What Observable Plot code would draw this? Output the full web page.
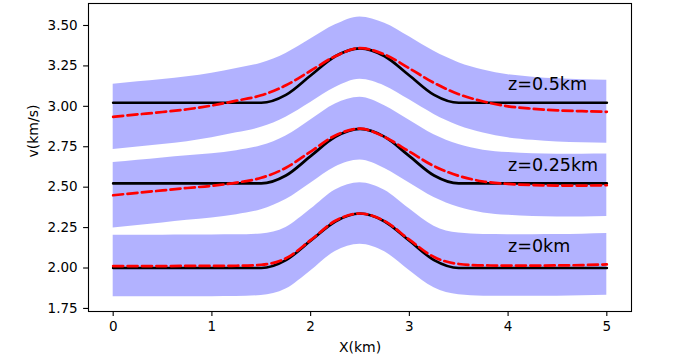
<!DOCTYPE html>
<html>
<head>
<meta charset="utf-8">
<script src="https://cdn.jsdelivr.net/npm/d3@7"></script>
<script src="https://cdn.jsdelivr.net/npm/@observablehq/plot@0.6"></script>
<style>
  html, body { margin: 0; padding: 0; background: #fff; }
  #chart svg { display: block; }
</style>
</head>
<body>
<div id="chart"></div>
<script>
// ---- data ----
const xs = [0, 0.25, 0.5, 0.75, 1, 1.25, 1.5, 1.75, 2, 2.25, 2.5, 2.75, 3, 3.25, 3.5, 3.75, 4, 4.25, 4.5, 4.75, 5];

const xTicks = [0, 1, 2, 3, 4, 5];
const yTicks = [1.75, 2.0, 2.25, 2.5, 2.75, 3.0, 3.25, 3.5];

const depthLabels = ["z=0km", "z=0.25km", "z=0.5km"];
const labelX = [4, 4, 4];
const labelY = [2.1, 2.6, 3.1];

// true model (black)
const true0   = [2.0, 2.0, 2.0, 2.0, 2.0, 2.0, 2.0, 2.049, 2.169, 2.288, 2.337, 2.288, 2.169, 2.049, 2.0, 2.0, 2.0, 2.0, 2.0, 2.0, 2.0];
const true025 = [2.523, 2.523, 2.523, 2.523, 2.523, 2.523, 2.523, 2.572, 2.692, 2.811, 2.86, 2.811, 2.692, 2.572, 2.523, 2.523, 2.523, 2.523, 2.523, 2.523, 2.523];
const true05  = [3.022, 3.022, 3.022, 3.022, 3.022, 3.022, 3.022, 3.071, 3.191, 3.31, 3.359, 3.31, 3.191, 3.071, 3.022, 3.022, 3.022, 3.022, 3.022, 3.022, 3.022];

// estimated model (red dashed)
const est0   = [2.012, 2.012, 2.012, 2.013, 2.013, 2.014, 2.02, 2.06, 2.172, 2.292, 2.337, 2.29, 2.175, 2.068, 2.025, 2.016, 2.015, 2.015, 2.016, 2.018, 2.022];
const est025 = [2.45, 2.465, 2.48, 2.495, 2.508, 2.528, 2.558, 2.62, 2.72, 2.82, 2.862, 2.81, 2.72, 2.63, 2.57, 2.535, 2.52, 2.513, 2.51, 2.51, 2.512];
const est05  = [2.935, 2.95, 2.965, 2.982, 3.005, 3.035, 3.068, 3.13, 3.22, 3.31, 3.36, 3.32, 3.235, 3.145, 3.075, 3.03, 3.0, 2.985, 2.975, 2.97, 2.966];

// uncertainty bands (blue)
const hi0   = [2.203, 2.203, 2.203, 2.204, 2.204, 2.205, 2.211, 2.251, 2.363, 2.483, 2.528, 2.481, 2.366, 2.259, 2.216, 2.207, 2.206, 2.206, 2.207, 2.209, 2.213];
const lo0   = [1.822, 1.822, 1.822, 1.823, 1.823, 1.824, 1.83, 1.87, 1.982, 2.102, 2.147, 2.1, 1.985, 1.878, 1.835, 1.826, 1.825, 1.825, 1.826, 1.828, 1.832];
const hi025 = [2.653, 2.667, 2.681, 2.695, 2.707, 2.726, 2.756, 2.817, 2.916, 3.015, 3.056, 3.004, 2.914, 2.824, 2.764, 2.729, 2.714, 2.707, 2.704, 2.704, 2.705];
const lo025 = [2.247, 2.263, 2.279, 2.295, 2.309, 2.33, 2.36, 2.423, 2.524, 2.625, 2.668, 2.616, 2.526, 2.436, 2.376, 2.341, 2.326, 2.319, 2.316, 2.316, 2.319];
const hi05  = [3.137, 3.152, 3.166, 3.183, 3.205, 3.234, 3.266, 3.327, 3.416, 3.504, 3.553, 3.514, 3.43, 3.34, 3.27, 3.225, 3.195, 3.18, 3.17, 3.165, 3.161];
const lo05  = [2.733, 2.748, 2.764, 2.781, 2.805, 2.836, 2.87, 2.933, 3.024, 3.116, 3.167, 3.126, 3.04, 2.95, 2.88, 2.835, 2.805, 2.79, 2.78, 2.775, 2.771];

// ---- build tables ----
const groups = [
  {z: depthLabels[0], t: true0,   e: est0,   hi: hi0,   lo: lo0},
  {z: depthLabels[1], t: true025, e: est025, hi: hi025, lo: lo025},
  {z: depthLabels[2], t: true05,  e: est05,  hi: hi05,  lo: lo05}
];
const rows = groups.flatMap(g => xs.map((x, i) => ({x, z: g.z, t: g.t[i], e: g.e[i], hi: g.hi[i], lo: g.lo[i]})));
const labels = depthLabels.map((t, i) => ({t, x: labelX[i], y: labelY[i]}));

const font = "'DejaVu Sans', sans-serif";

const chart = Plot.plot({
  width: 700,
  height: 354,
  marginLeft: 88,
  marginRight: 69,
  marginTop: 3,
  marginBottom: 43,
  style: {fontFamily: font, fontSize: "13.5px", color: "black", background: "white"},
  x: {domain: [-0.25, 5.25]},
  y: {domain: [1.731, 3.636]},
  marks: [
    Plot.areaY(rows, {x: "x", y1: "lo", y2: "hi", z: "z", fill: "#0000ff", fillOpacity: 0.3, curve: "monotone-x"}),
    Plot.lineY(rows, {x: "x", y: "t", z: "z", stroke: "black", strokeWidth: 2.7, curve: "monotone-x"}),
    Plot.lineY(rows, {x: "x", y: "e", z: "z", stroke: "#ff0000", strokeWidth: 2.7, strokeDasharray: "10,4.4", curve: "monotone-x"}),
    Plot.text(labels, {x: "x", y: "y", text: "t", textAnchor: "start", lineAnchor: "bottom", fontSize: 17.5, fill: "black"}),
    Plot.frame({stroke: "black", strokeWidth: 1.1}),
    Plot.axisX(xTicks, {tickSize: 4.9, tickPadding: 4.9, label: null, fontSize: 13.5, strokeWidth: 1.1}),
    Plot.axisY(yTicks, {tickSize: 4.9, tickPadding: 6, label: null, tickFormat: d => d.toFixed(2), fontSize: 13.5, strokeWidth: 1.1}),
    Plot.text(["X(km)"], {frameAnchor: "bottom", dy: 40, text: d => d, lineAnchor: "bottom", fontSize: 14, fill: "black"}),
    Plot.text(["v(km/s)"], {frameAnchor: "left", dx: -55, rotate: -90, text: d => d, fontSize: 14, fill: "black"})
  ]
});
document.getElementById("chart").appendChild(chart);
</script>
</body>
</html>
